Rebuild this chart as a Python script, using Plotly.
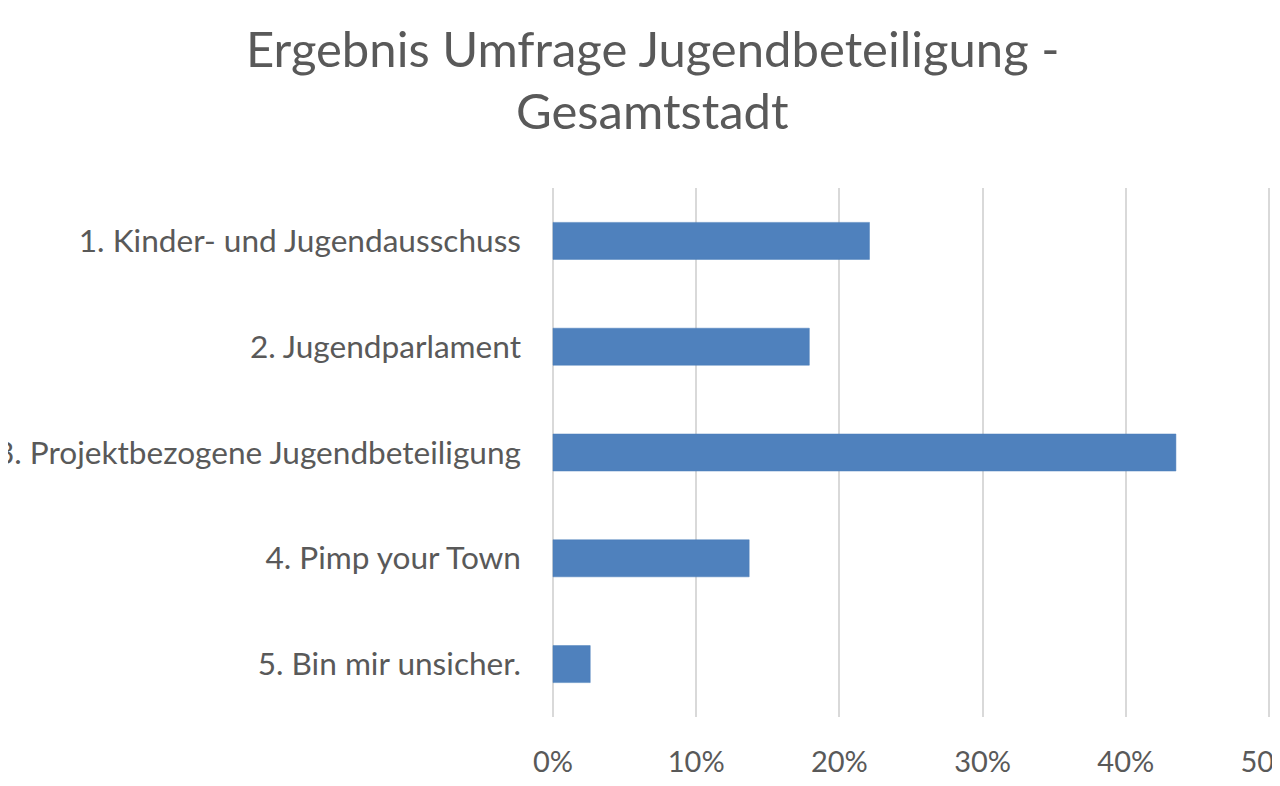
import plotly.graph_objects as go

categories = [
    "1. Kinder- und Jugendausschuss",
    "2. Jugendparlament",
    "3. Projektbezogene Jugendbeteiligung",
    "4. Pimp your Town",
    "5. Bin mir unsicher.",
]
values = [22.1, 17.9, 43.5, 13.7, 2.6]
tick_vals = [0, 10, 20, 30, 40, 50]
tick_text = ["0%", "10%", "20%", "30%", "40%", "50%"]
title_lines = ["Ergebnis Umfrage Jugendbeteiligung -", "Gesamtstadt"]

FONT = "Lato"
GRAY = "#595959"

fig = go.Figure(go.Bar(
    x=values, y=categories, orientation="h",
    marker=dict(color="#4F81BD", line=dict(color="#4A7EBB", width=0.5)),
    width=0.35,
))

fig.update_layout(
    width=1264, height=770,
    paper_bgcolor="white", plot_bgcolor="white",
    margin=dict(l=544, r=0, t=180, b=61, autoexpand=False),
    showlegend=False,
    annotations=[
        dict(text=title_lines[0], xref="paper", yref="paper", x=0.14, y=1.2647,
             xanchor="center", yanchor="middle", showarrow=False,
             font=dict(family=FONT, size=49, color=GRAY)),
        dict(text=title_lines[1], xref="paper", yref="paper", x=0.14, y=1.1474,
             xanchor="center", yanchor="middle", showarrow=False,
             font=dict(family=FONT, size=49, color=GRAY)),
    ],
)
fig.update_xaxes(
    range=[-0.07, 50.21], tickvals=tick_vals, ticktext=tick_text,
    showgrid=True, gridcolor="#d9d9d9", gridwidth=2,
    zeroline=True, zerolinecolor="#d9d9d9", zerolinewidth=2,
    showline=False, ticks="",
    tickfont=dict(family=FONT, size=29, color=GRAY),
    ticklabelstandoff=25, ticklabeloverflow="allow", automargin=False,
)
fig.update_yaxes(
    autorange="reversed", showgrid=False, zeroline=False, showline=False,
    ticks="", tickfont=dict(family=FONT, size=31.6, color=GRAY),
    ticklabelstandoff=30, ticklabeloverflow="allow", automargin=False,
)
fig.write_html("out.html")
